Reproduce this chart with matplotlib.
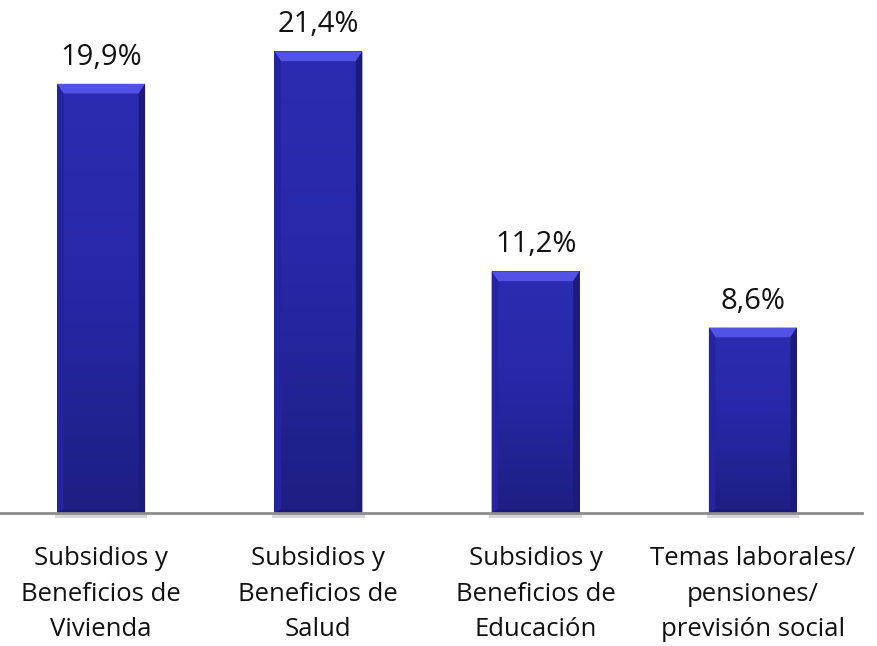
import numpy as np
import matplotlib.pyplot as plt
from matplotlib.patches import Polygon
from matplotlib.colors import LinearSegmentedColormap

categories = ["Subsidios y\nBeneficios de\nVivienda",
              "Subsidios y\nBeneficios de\nSalud",
              "Subsidios y\nBeneficios de\nEducación",
              "Temas laborales/\npensiones/\nprevisión social"]
values = [19.9, 21.4, 11.2, 8.6]
labels = ["19,9%", "21,4%", "11,2%", "8,6%"]

plt.rcParams['font.family'] = ['Open Sans', 'DejaVu Sans']

fig = plt.figure(figsize=(8.77, 6.46), dpi=100)
ax = fig.add_axes([-7.5 / 877, 133 / 646, 869 / 877, 509 / 646])

x = np.arange(len(values))
w = 0.405
bars = ax.bar(x, values, width=w, color='#2626a4', edgecolor='none', zorder=2)

# vertical gradient inside each bar (lighter top, darker bottom)
grad_cmap = LinearSegmentedColormap.from_list('bar', ['#1e1e82', '#2727a6', '#2c2cb2'])
grad = np.linspace(0, 1, 256).reshape(-1, 1)

for b in bars:
    x0, x1 = b.get_x(), b.get_x() + b.get_width()
    h = b.get_height()
    # soft shadow just under the bar
    ax.bar(b.get_x() + b.get_width() / 2, -0.25, width=b.get_width() * 1.05,
           color='#b0b0b0', alpha=0.5, zorder=1, clip_on=False)
    im = ax.imshow(grad, cmap=grad_cmap, origin='lower', aspect='auto',
                   extent=[x0, x1, 0, h], zorder=2.5)
    im.set_clip_path(b)
    # bevel edges
    dx = 0.03
    dy = 0.45
    ax.add_patch(Polygon([[x0, h], [x1, h], [x1 - dx, h - dy], [x0 + dx, h - dy]],
                         closed=True, color='#5252e6', zorder=3, lw=0))
    ax.add_patch(Polygon([[x1, h], [x1, 0], [x1 - dx, dy * 0.4], [x1 - dx, h - dy]],
                         closed=True, color='#1b1b7e', zorder=3, lw=0))
    ax.add_patch(Polygon([[x0, h], [x0, 0], [x0 + dx, dy * 0.4], [x0 + dx, h - dy]],
                         closed=True, color='#2424a0', zorder=3, lw=0))
    ax.add_patch(Polygon([[x0, 0], [x1, 0], [x1 - dx, dy * 0.4], [x0 + dx, dy * 0.4]],
                         closed=True, color='#1a1a7c', zorder=3, lw=0))

for xi, v, lab in zip(x, values, labels):
    ax.text(xi, v + 0.88, lab, ha='center', va='baseline', fontsize=21, color='#111111')

ax.set_xlim(-0.5, len(values) - 0.5)
ax.set_ylim(0, 23.6)
ax.set_xticks(x)
ax.set_xticklabels(categories, fontsize=18.5, linespacing=1.55, color='#111111')
ax.tick_params(axis='x', length=0, pad=24)
ax.set_yticks([])
for s in ['top', 'right', 'left']:
    ax.spines[s].set_visible(False)
ax.spines['bottom'].set_color('#8c8c8c')
ax.spines['bottom'].set_linewidth(2)
ax.spines['bottom'].set_zorder(4)

fig.savefig('out.png', dpi=100)
